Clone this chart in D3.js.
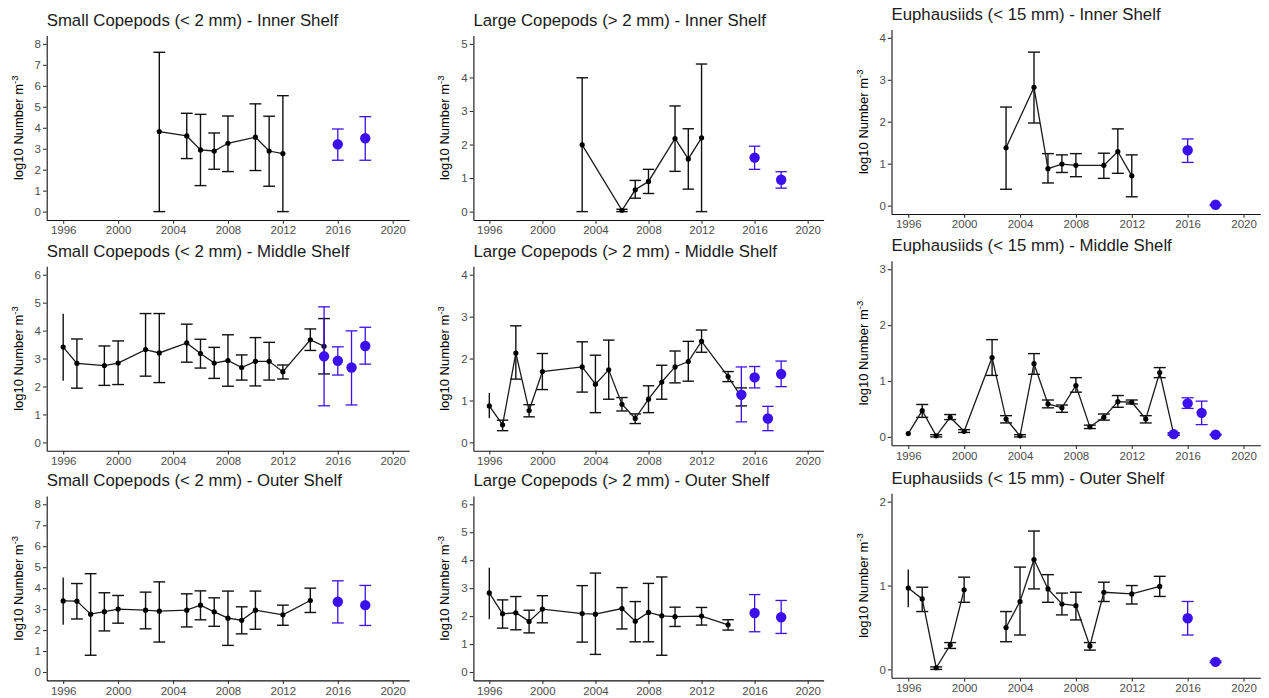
<!DOCTYPE html>
<html>
<head>
<meta charset="utf-8">
<title>Zooplankton abundance by shelf region</title>
<script src="https://d3js.org/d3.v7.min.js"></script>
<style>
  body { margin: 0; background: #fff; font-family: "Liberation Sans", Arial, sans-serif; }
  svg { display: block; }
  .panel-title { font-size: 16.8px; fill: #1a1a1a; }
  .axis-title { font-size: 13px; fill: #000; }
</style>
</head>
<body>
<svg id="chart" width="1269" height="698"></svg>
<script>
// each row: [year, mean, lower, upper]  (log10 number m^-3)
const smallInner = [[2003,3.82,0,7.6],[2005,3.61,2.53,4.69],[2006,2.94,1.24,4.64],[2007,2.89,2.02,3.75],[2008,3.26,1.91,4.56],[2010,3.55,1.96,5.14],[2011,2.89,1.21,4.55],[2012,2.77,0,5.53]];
const smallInnerNew = [[2016,3.21,2.45,3.94],[2018,3.5,2.45,4.53]];

const largeInner = [[2003,1.99,0,3.99],[2006,0.04,0,0.07],[2007,0.65,0.4,0.93],[2008,0.9,0.54,1.26],[2010,2.18,1.2,3.15],[2011,1.57,0.67,2.47],[2012,2.2,0,4.4]];
const largeInnerNew = [[2016,1.61,1.26,1.95],[2018,0.95,0.7,1.19]];

const euphInner = [[2003,1.38,0.39,2.35],[2005,2.82,1.97,3.66],[2006,0.88,0.54,1.24],[2007,0.99,0.79,1.21],[2008,0.96,0.69,1.24],[2010,0.96,0.65,1.25],[2011,1.29,0.77,1.83],[2012,0.71,0.21,1.21]];
const euphInnerNew = [[2016,1.32,1.03,1.59],[2018,0.02,0,0.03]];

const smallMiddle = [[1996,3.41,2.21,4.6],[1997,2.83,1.94,3.7],[1999,2.75,2.04,3.45],[2000,2.84,2.07,3.63],[2002,3.32,2.37,4.61],[2003,3.2,2.14,4.61],[2005,3.56,2.87,4.23],[2006,3.18,2.66,3.69],[2007,2.84,2.29,3.4],[2008,2.93,2.01,3.85],[2009,2.68,2.23,3.13],[2010,2.9,2.02,3.75],[2011,2.9,2.23,3.58],[2012,2.53,2.27,2.77],[2014,3.67,3.29,4.06],[2015,3.44,2.45,4.43]];
const smallMiddleNew = [[2015,3.08,1.31,4.85],[2016,2.92,2.41,3.42],[2017,2.68,1.34,3.99],[2018,3.45,2.8,4.12]];

const largeMiddle = [[1996,0.87,0.58,1.18],[1997,0.42,0.28,0.53],[1998,2.13,1.51,2.78],[1999,0.76,0.61,0.9],[2000,1.69,1.26,2.12],[2003,1.8,1.2,2.4],[2004,1.39,0.71,2.08],[2005,1.73,1.03,2.44],[2006,0.91,0.75,1.07],[2007,0.57,0.45,0.68],[2008,1.03,0.71,1.35],[2009,1.44,1.03,1.84],[2010,1.8,1.42,2.18],[2011,1.93,1.46,2.41],[2012,2.41,2.15,2.68],[2014,1.57,1.45,1.69],[2015,1.08,0.87,1.3]];
const largeMiddleNew = [[2015,1.14,0.49,1.8],[2016,1.55,1.3,1.81],[2017,0.57,0.28,0.86],[2018,1.63,1.33,1.94]];

const euphMiddle = [[1996,0.06,0.05,0.07],[1997,0.47,0.35,0.58],[1998,0.02,0,0.04],[1999,0.35,0.31,0.4],[2000,0.1,0.08,0.13],[2002,1.42,1.1,1.74],[2003,0.32,0.25,0.38],[2004,0.02,0,0.04],[2005,1.31,1.12,1.49],[2006,0.59,0.52,0.66],[2007,0.52,0.44,0.57],[2008,0.92,0.8,1.06],[2009,0.18,0.15,0.21],[2010,0.35,0.3,0.41],[2011,0.63,0.53,0.74],[2012,0.62,0.59,0.66],[2013,0.32,0.25,0.38],[2014,1.15,1.06,1.24],[2015,0.05,0.03,0.07]];
const euphMiddleNew = [[2015,0.05,0.03,0.07],[2016,0.6,0.51,0.7],[2017,0.43,0.22,0.64],[2018,0.04,0.03,0.05]];

const smallOuter = [[1996,3.39,2.25,4.51],[1997,3.38,2.53,4.22],[1998,2.76,0.8,4.69],[1999,2.88,1.96,3.78],[2000,3.0,2.33,3.65],[2002,2.95,2.06,3.81],[2003,2.9,1.43,4.3],[2005,2.95,2.15,3.73],[2006,3.19,2.49,3.87],[2007,2.87,2.18,3.54],[2008,2.57,1.27,3.86],[2009,2.47,1.82,3.11],[2010,2.95,2.04,3.86],[2012,2.73,2.23,3.19],[2014,3.41,2.84,4.0]];
const smallOuterNew = [[2016,3.35,2.34,4.35],[2018,3.19,2.22,4.13]];

const largeOuter = [[1996,2.83,1.89,3.73],[1997,2.08,1.57,2.58],[1998,2.12,1.51,2.7],[1999,1.81,1.4,2.21],[2000,2.25,1.76,2.73],[2003,2.09,1.07,3.09],[2004,2.07,0.63,3.54],[2006,2.27,1.54,3.02],[2007,1.82,1.08,2.52],[2008,2.13,1.08,3.17],[2009,2.01,0.6,3.4],[2010,1.98,1.63,2.32],[2012,2.0,1.68,2.31],[2014,1.69,1.5,1.87]];
const largeOuterNew = [[2016,2.11,1.44,2.77],[2018,1.96,1.38,2.56]];

// null row = break in the line
const euphOuter = [[1996,0.97,0.74,1.19],[1997,0.84,0.69,0.98],[1998,0.02,0,0.03],[1999,0.29,0.25,0.32],[2000,0.95,0.8,1.1],[2002,null,null,null],[2003,0.5,0.33,0.69],[2004,0.81,0.41,1.22],[2005,1.31,0.96,1.65],[2006,0.96,0.8,1.13],[2007,0.78,0.65,0.91],[2008,0.76,0.59,0.92],[2009,0.28,0.23,0.32],[2010,0.92,0.81,1.04],[2012,0.9,0.78,1.0],[2014,0.99,0.87,1.11]];
const euphOuterNew = [[2016,0.61,0.41,0.81],[2018,0.09,0.08,0.1]];

const titles = [
  "Small Copepods (< 2 mm) - Inner Shelf", "Large Copepods (> 2 mm) - Inner Shelf", "Euphausiids (< 15 mm) - Inner Shelf",
  "Small Copepods (< 2 mm) - Middle Shelf", "Large Copepods (> 2 mm) - Middle Shelf", "Euphausiids (< 15 mm) - Middle Shelf",
  "Small Copepods (< 2 mm) - Outer Shelf", "Large Copepods (> 2 mm) - Outer Shelf", "Euphausiids (< 15 mm) - Outer Shelf"
];
const yMax = [8, 5, 4, 6, 4, 3, 8, 6, 2];
const xTicks = [1996, 2000, 2004, 2008, 2012, 2016, 2020];

const oldSeries = [smallInner, largeInner, euphInner, smallMiddle, largeMiddle, euphMiddle, smallOuter, largeOuter, euphOuter];
const newSeries = [smallInnerNew, largeInnerNew, euphInnerNew, smallMiddleNew, largeMiddleNew, euphMiddleNew, smallOuterNew, largeOuterNew, euphOuterNew];

// layout (px)
const colLeft = [46.7, 473.4, 891.5];
const colRight = [409.2, 823.6, 1260.3];
const rowTop = [35.5, 266.3, 495.9];
const col3Shift = [-6, -5.5, -2.6];
const plotH = 184.5;
const capW = 0.43;     // years
const blue = "#3c10ee";
const font = "'Liberation Sans', Arial, sans-serif";

const svg = d3.select("#chart");

titles.forEach((title, i) => {
  const r = Math.floor(i / 3), c = i % 3;
  const top = rowTop[r] + (c === 2 ? col3Shift[r] : 0);
  const bottom = top + plotH;
  const left = colLeft[c];

  const x = d3.scaleLinear().domain([1994.8, 2021.2]).range([left, colRight[c]]);
  const y = d3.scaleLinear().domain([-0.05 * yMax[i], 1.05 * yMax[i]]).range([bottom, top]);

  const g = svg.append("g");

  // axes
  const xg = g.append("g")
    .attr("transform", `translate(0,${bottom})`)
    .call(d3.axisBottom(x).tickValues(xTicks).tickFormat(d3.format("d"))
      .tickSize(3.7).tickSizeOuter(0).tickPadding(2.5));
  const yg = g.append("g")
    .attr("transform", `translate(${left},0)`)
    .call(d3.axisLeft(y).tickValues(d3.range(0, yMax[i] + 1)).tickFormat(d3.format("d"))
      .tickSize(3.7).tickSizeOuter(0).tickPadding(2));
  [xg, yg].forEach(a => {
    a.attr("font-size", 11.5).attr("font-family", font);
    a.select(".domain").attr("stroke", "#111").attr("stroke-width", 1.1);
    a.selectAll(".tick line").attr("stroke", "#333").attr("stroke-width", 1.1);
    a.selectAll(".tick text").attr("fill", "#4d4d4d");
  });

  // titles
  g.append("text").attr("class", "panel-title")
    .attr("x", left).attr("y", top - 9.5).text(title);
  const yt = g.append("text").attr("class", "axis-title")
    .attr("text-anchor", "middle")
    .attr("transform", `translate(${left - 24},${(top + bottom) / 2}) rotate(-90)`);
  yt.append("tspan").text("log10 Number m");
  yt.append("tspan").attr("dy", -5).attr("font-size", 9.5).text("-3");

  function errorBars(data, color, width) {
    const d = data.filter(v => v[1] != null);
    const eb = g.append("g").attr("stroke", color).attr("stroke-width", width);
    eb.selectAll("line.v").data(d).join("line").attr("class", "v")
      .attr("x1", v => x(v[0])).attr("x2", v => x(v[0]))
      .attr("y1", v => y(v[2])).attr("y2", v => y(v[3]));
    const capped = d.filter(v => v[0] !== 1996);
    ["lo", "hi"].forEach((k, j) => {
      eb.selectAll("line." + k).data(capped).join("line").attr("class", k)
        .attr("x1", v => x(v[0] - capW)).attr("x2", v => x(v[0] + capW))
        .attr("y1", v => y(v[2 + j])).attr("y2", v => y(v[2 + j]));
    });
  }

  // historical series
  const old = oldSeries[i];
  errorBars(old, "#111", 1.4);
  g.append("path").datum(old)
    .attr("fill", "none").attr("stroke", "#1a1a1a").attr("stroke-width", 1.3)
    .attr("d", d3.line().defined(v => v[1] != null).x(v => x(v[0])).y(v => y(v[1])));
  g.append("g").selectAll("circle").data(old.filter(v => v[1] != null)).join("circle")
    .attr("cx", v => x(v[0])).attr("cy", v => y(v[1])).attr("r", 2.6).attr("fill", "#000");

  // recent survey estimates
  const recent = newSeries[i];
  errorBars(recent, blue, 1.3);
  g.append("g").selectAll("circle").data(recent).join("circle")
    .attr("cx", v => x(v[0])).attr("cy", v => y(v[1])).attr("r", 5.2).attr("fill", blue);
});
</script>
</body>
</html>
